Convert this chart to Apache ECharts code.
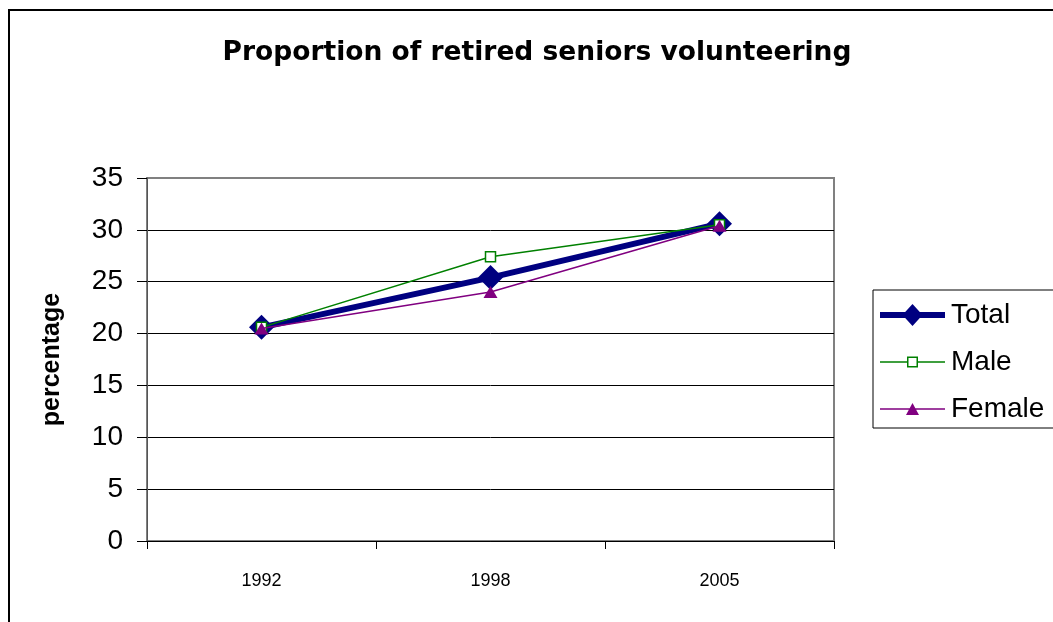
<!DOCTYPE html>
<html>
<head>
<meta charset="utf-8">
<script src="https://cdn.jsdelivr.net/npm/echarts@6/dist/echarts.min.js"></script>
<style>
html,body{margin:0;padding:0;background:#fff;}
#chart{width:1053px;height:622px;}
</style>
</head>
<body>
<div id="chart"></div>
<script>
const categories = ['1992', '1998', '2005'];
const totalValues = [20.6, 25.4, 30.6];
const maleValues = [20.6, 27.4, 30.5];
const femaleValues = [20.5, 24.0, 30.4];
const yTicks = [0, 5, 10, 15, 20, 25, 30, 35];
const seriesNames = ['Total', 'Male', 'Female'];

const FONT = '"Liberation Sans", Arial, sans-serif';

// legend icons: line + marker, drawn in a 65 x 22 box
const ICON_TOTAL = 'path://M0,8 L25.2,8 L32.5,0 L39.8,8 L65,8 L65,14 L39.8,14 L32.5,22 L25.2,14 L0,14 Z';
const ICON_MALE = 'path://M0,10.25 L27,10.25 L27,5.5 L38,5.5 L38,10.25 L65,10.25 L65,11.75 L38,11.75 L38,16.5 L27,16.5 L27,11.75 L0,11.75 Z M28.5,7 L28.5,15 L36.5,15 L36.5,7 Z M0,0 L0.01,0 Z M0,22 L0.01,22 Z';
const ICON_FEMALE = 'path://M0,10.25 L29.66,10.25 L32.5,5 L35.34,10.25 L65,10.25 L65,11.75 L36.16,11.75 L39,17 L26,17 L28.84,11.75 L0,11.75 Z M0,0 L0.01,0 Z M0,22 L0.01,22 Z';

const chart = echarts.init(document.getElementById('chart'), null, {renderer: 'canvas'});
chart.setOption({
  backgroundColor: '#ffffff',
  animation: false,
  title: {
    text: 'Proportion of retired seniors volunteering',
    left: 532,
    textAlign: 'center',
    top: 35,
    textStyle: {fontFamily: '"DejaVu Sans", sans-serif', fontSize: 26.5, fontWeight: 'bold', color: '#000'}
  },
  graphic: [{
    type: 'rect',
    shape: {x: 9, y: 10, width: 1100, height: 700},
    style: {fill: 'none', stroke: '#000', lineWidth: 2},
    silent: true
  }],
  grid: {
    left: 147, top: 178, width: 687, height: 363,
    show: true, borderColor: '#808080', borderWidth: 2, backgroundColor: 'transparent'
  },
  legend: {
    orient: 'vertical',
    left: 873, top: 290,
    padding: [9, 30, 3, 7],
    itemWidth: 65, itemHeight: 22, itemGap: 15,
    borderColor: '#000', borderWidth: 1,
    data: [
      {name: seriesNames[0], icon: ICON_TOTAL, itemStyle: {color: '#000080', borderWidth: 0}},
      {name: seriesNames[1], icon: ICON_MALE, itemStyle: {color: '#008000', borderWidth: 0}},
      {name: seriesNames[2], icon: ICON_FEMALE, itemStyle: {color: '#800080', borderWidth: 0}}
    ],
    textStyle: {fontFamily: FONT, fontSize: 28, color: '#000', lineHeight: 32, padding: [0, 0, 0, 1]}
  },
  xAxis: {
    type: 'category',
    data: categories,
    boundaryGap: true,
    axisLine: {lineStyle: {color: '#000', width: 1}},
    axisTick: {show: true, length: 8, inside: false, lineStyle: {color: '#000'}},
    axisLabel: {fontFamily: FONT, fontSize: 18, color: '#000', margin: 31},
    splitLine: {show: false}
  },
  yAxis: {
    type: 'value',
    min: yTicks[0], max: yTicks[yTicks.length - 1], interval: 5,
    name: 'percentage',
    nameLocation: 'middle',
    nameRotate: 90,
    nameGap: 82,
    nameTextStyle: {fontFamily: FONT, fontSize: 25, fontWeight: 'bold', color: '#000'},
    axisLine: {show: true, lineStyle: {color: '#555', width: 1}},
    axisTick: {show: true, length: 10, lineStyle: {color: '#000'}},
    axisLabel: {fontFamily: FONT, fontSize: 28, color: '#000', margin: 24},
    splitLine: {show: true, lineStyle: {color: ['#000', '#000', '#000', '#000', '#000', '#000', '#000', '#808080'], width: 1}}
  },
  series: [
    {
      name: seriesNames[0], type: 'line', data: totalValues,
      symbol: 'diamond', symbolSize: 25,
      lineStyle: {color: '#000080', width: 6},
      itemStyle: {color: '#000080'},
      z: 2
    },
    {
      name: seriesNames[1], type: 'line', data: maleValues,
      symbol: 'rect', symbolSize: 10,
      lineStyle: {color: '#008000', width: 1.5},
      itemStyle: {color: '#ffffff', borderColor: '#008000', borderWidth: 1.5},
      z: 3
    },
    {
      name: seriesNames[2], type: 'line', data: femaleValues,
      symbol: 'triangle', symbolSize: [14, 12],
      lineStyle: {color: '#800080', width: 1.5},
      itemStyle: {color: '#800080'},
      z: 4
    }
  ]
});
</script>
</body>
</html>
